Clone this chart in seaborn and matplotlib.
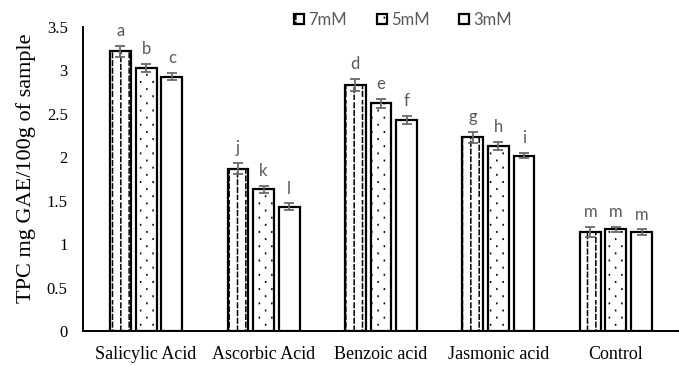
import numpy as np
import pandas as pd
import matplotlib
matplotlib.use("Agg")
import matplotlib.pyplot as plt
import matplotlib.hatch as mhatch
from matplotlib.path import Path
from matplotlib.patches import Patch
import seaborn as sns

# ---------------- data ----------------
categories = ["Salicylic Acid", "Ascorbic Acid", "Benzoic acid", "Jasmonic acid", "Control"]
levels = ["7mM", "5mM", "3mM"]
vals_7mM = [3.22, 1.87, 2.83, 2.23, 1.14]
vals_5mM = [3.03, 1.63, 2.62, 2.13, 1.17]
vals_3mM = [2.93, 1.43, 2.43, 2.02, 1.14]
err_7mM = [0.06, 0.065, 0.07, 0.06, 0.055]
err_5mM = [0.045, 0.04, 0.055, 0.05, 0.03]
err_3mM = [0.045, 0.04, 0.045, 0.03, 0.03]
letters_7mM = ["a", "j", "d", "g", "m"]
letters_5mM = ["b", "k", "e", "h", "m"]
letters_3mM = ["c", "l", "f", "i", "m"]
y_ticks = [0, 0.5, 1, 1.5, 2, 2.5, 3, 3.5]
y_tick_labels = ["0", "0.5", "1", "1.5", "2", "2.5", "3", "3.5"]
y_label = "TPC mg GAE/100g of sample"

values = {"7mM": vals_7mM, "5mM": vals_5mM, "3mM": vals_3mM}
errors = {"7mM": err_7mM, "5mM": err_5mM, "3mM": err_3mM}
letters = {"7mM": letters_7mM, "5mM": letters_5mM, "3mM": letters_3mM}

df = pd.DataFrame({
    "treatment": [c for lv in levels for c in categories],
    "level": [lv for lv in levels for c in categories],
    "tpc": [v for lv in levels for v in values[lv]],
})


# ---------------- hatch styles (dashed verticals, sparse tiny dots) ----------------
class DashedVerticalHatch(mhatch.HatchPatternBase):
    n_dash = 13
    per_char = 12

    def __init__(self, hatch, density):
        self.num_lines = int(hatch.count('|') * self.per_char)
        self.num_vertices = self.num_lines * self.n_dash * 2

    def set_vertices_and_codes(self, vertices, codes):
        steps, step = np.linspace(0.0, 1.0, self.num_lines, False, retstep=True)
        steps = steps + step / 2.0
        starts = np.arange(self.n_dash) / self.n_dash
        dash = 0.6 / self.n_dash
        k = 0
        for i, x in enumerate(steps):
            phase = 0.0 if i % 2 == 0 else 0.5 / self.n_dash
            for y0 in starts:
                vertices[k] = (x, y0 + phase)
                vertices[k + 1] = (x, y0 + phase + dash)
                codes[k] = Path.MOVETO
                codes[k + 1] = Path.LINETO
                k += 2


class SparseDotHatch(mhatch.HatchPatternBase):
    n_cols = 8
    n_rows = 14

    def __init__(self, hatch, density):
        self.on = hatch.count('.') > 0
        self.num_vertices = (self.n_cols * self.n_rows * 2) if self.on else 0

    def set_vertices_and_codes(self, vertices, codes):
        k = 0
        d = 0.004
        for r in range(self.n_rows):
            y = (r + 0.5) / self.n_rows
            off = 0.0 if r % 2 == 0 else 0.5 / self.n_cols
            for c in range(self.n_cols):
                x = (c + 0.25) / self.n_cols + off
                vertices[k] = (x, y)
                vertices[k + 1] = (x, y + d)
                codes[k] = Path.MOVETO
                codes[k + 1] = Path.LINETO
                k += 2


def _swap(t):
    if t is mhatch.VerticalHatch:
        return DashedVerticalHatch
    if t is mhatch.SmallFilledCircles:
        return SparseDotHatch
    return t


mhatch._hatch_types[:] = [_swap(t) for t in mhatch._hatch_types]

# ---------------- plot ----------------
sns.set_theme(style="white")
plt.rcParams["hatch.linewidth"] = 1.1
plt.rcParams["hatch.color"] = "black"

fig = plt.figure(figsize=(6.79, 3.65), dpi=100)
ax = fig.add_axes([83 / 679, 1 - 331 / 365, 1 - 83 / 679, (331 - 27) / 365])

palette = {"7mM": "white", "5mM": "white", "3mM": "white"}
sns.barplot(data=df, x="treatment", y="tpc", hue="level", order=categories,
            hue_order=levels, palette=palette, errorbar=None, width=0.655,
            gap=0.19, edgecolor="black", linewidth=1.6, legend=False, ax=ax)

hatches = {"7mM": "|", "5mM": ".", "3mM": ""}
gray = "#595959"
for lv, cont in zip(levels, ax.containers):
    xs = []
    hs = []
    for bar in cont:
        bar.set_hatch(hatches[lv])
        xs.append(bar.get_x() + bar.get_width() / 2)
        hs.append(bar.get_height())
    ax.errorbar(xs, hs, yerr=errors[lv], fmt="none", ecolor="#6a6a6a",
                elinewidth=1.3, capsize=3.3, capthick=1.3, zorder=5)
    for x, h, e, t in zip(xs, hs, errors[lv], letters[lv]):
        ax.annotate(t, (x, h + e), xytext=(0, 7), textcoords="offset points",
                    ha="center", va="baseline", fontsize=12, color=gray,
                    family="Lato")

ax.set_ylim(0, 3.5)
ax.set_yticks(y_ticks)
ax.set_yticklabels(y_tick_labels, family="Liberation Serif", fontsize=12, color="black")
ax.set_xticks(range(len(categories)))
ax.set_xticklabels(categories, family="Liberation Serif", fontsize=13, color="black")
ax.tick_params(axis="y", length=0, pad=11)
ax.tick_params(axis="x", length=0, pad=10.5)
ax.set_xlabel("")
ax.set_ylabel(y_label, family="Liberation Serif", fontsize=16, color="black")
ax.yaxis.set_label_coords((36 - 83) / 596, 0.535)

for s in ["top", "right"]:
    ax.spines[s].set_visible(False)
for s in ["left", "bottom"]:
    ax.spines[s].set_color("black")
    ax.spines[s].set_linewidth(1.4)

handles = [Patch(facecolor="white", edgecolor="black", linewidth=1.6, hatch=hatches[lv])
           for lv in levels]
leg = fig.legend(handles, levels, loc="center", bbox_to_anchor=(403 / 679, 1 - 20 / 365),
                 ncol=3, frameon=False, handlelength=0.6, handleheight=0.6,
                 handletextpad=0.25, columnspacing=1.8,
                 prop={"family": "Lato", "size": 12})
for t in leg.get_texts():
    t.set_color(gray)

fig.savefig("out.png", dpi=100)
